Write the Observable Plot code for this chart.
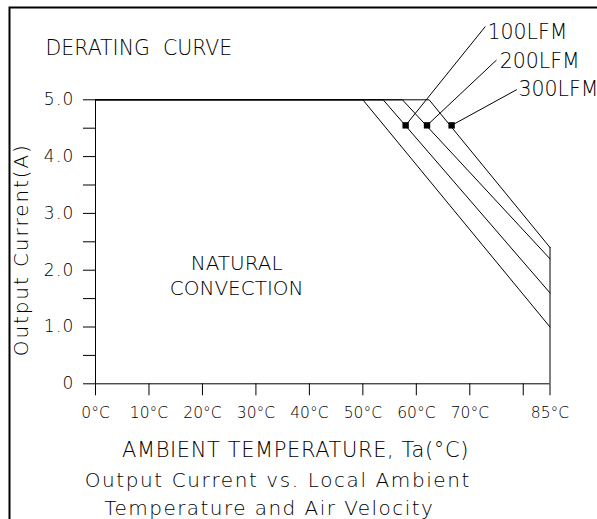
<!DOCTYPE html>
<html><head><meta charset="utf-8">
<script src="https://cdn.jsdelivr.net/npm/d3@7"></script>
<script src="https://cdn.jsdelivr.net/npm/@observablehq/plot@0.6"></script>
<style>
body{margin:0;background:#fff}
#chart{width:597px;height:519px;overflow:hidden;position:relative}
</style>
</head><body><div id="chart"></div>
<script>
// ---- data ----
const curveNames = ["NATURAL CONVECTION", "100LFM", "200LFM", "300LFM"];
const kneeTemps = [50, 53.8, 57.4, 62.4];      // °C where derating starts
const maxCurrent = 5.0;                          // A
const endTemp = 85;                              // °C
const endCurrents = [1.0, 1.6, 2.2, 2.4];        // A at 85°C

const labelNames = ["100LFM", "200LFM", "300LFM"];
const markerTemps = [58.0, 62.0, 66.6];
const markerCurrents = [4.55, 4.55, 4.55];
const leaderTemps = [72.9, 75.0, 78.8];
const leaderCurrents = [6.29, 5.70, 5.18];
const labelTemps = [73.3, 75.6, 79.1];
const labelCurrents = [6.19, 5.68, 5.19];

const xTicks = [0, 10, 20, 30, 40, 50, 60, 70, 80, 85];
const xTickLabels = ["0°C", "10°C", "20°C", "30°C", "40°C", "50°C", "60°C", "70°C", "", "85°C"];
const yTicks = [0, 0.5, 1, 1.5, 2, 2.5, 3, 3.5, 4, 4.5, 5];
const yTickLabels = ["0", "", "1.0", "", "2.0", "", "3.0", "", "4.0", "", "5.0"];

const titleText = "DERATING  CURVE";
const regionText = ["NATURAL", "CONVECTION"];
const xLabel = "AMBIENT TEMPERATURE, Ta(°C)";
const yLabel = "Output Current(A)";
const captionLines = ["Output Current vs. Local Ambient", "Temperature and Air Velocity"];

// ---- build tables ----
const curvePts = [];
curveNames.forEach((n, i) => {
  curvePts.push({s: n, t: 0, a: maxCurrent});
  curvePts.push({s: n, t: kneeTemps[i], a: maxCurrent});
  curvePts.push({s: n, t: endTemp, a: endCurrents[i]});
});
const markers = labelNames.map((n, i) => ({
  n, t: markerTemps[i], a: markerCurrents[i],
  lt: leaderTemps[i], la: leaderCurrents[i],
  tt: labelTemps[i], ta: labelCurrents[i]
}));

const FONT = "DejaVu Sans";
const W = 200;

const plot = Plot.plot({
  width: 597, height: 519,
  marginLeft: 95, marginRight: 47.5, marginTop: 99.3, marginBottom: 135.7,
  x: {domain: [0, 85]},
  y: {domain: [0, 5]},
  style: {fontFamily: FONT, background: "#fff", color: "#000"},
  marks: [
    Plot.frame({insetLeft: -86, insetTop: -92.3, insetRight: -80, insetBottom: -200, stroke: "#000", strokeWidth: 2}),
    Plot.axisX({ticks: xTicks, tickSize: 12, tickPadding: 11, tickFormat: d => xTickLabels[xTicks.indexOf(d)], fontSize: 15.5, fontWeight: W, fill: "#000", label: null}),
    Plot.axisY({ticks: yTicks, tickSize: 12, tickPadding: 9, tickFormat: d => yTickLabels[yTicks.indexOf(d)], fontSize: 17, fontWeight: W, fill: "#000", label: null}),
    Plot.ruleX([0], {y1: 0, y2: maxCurrent, stroke: "#000"}),
    Plot.ruleY([0], {stroke: "#000"}),
    Plot.ruleX([endTemp], {y1: 0, y2: d3.max(endCurrents), stroke: "#000"}),
    Plot.line(curvePts, {x: "t", y: "a", z: "s", stroke: "#000", strokeWidth: 1}),
    Plot.link(markers, {x1: "t", y1: "a", x2: "lt", y2: "la", stroke: "#000", strokeWidth: 1}),
    Plot.dot(markers, {x: "t", y: "a", symbol: "square", r: 3.6, fill: "#000", stroke: null}),
    Plot.text(markers, {x: "tt", y: "ta", text: "n", textAnchor: "start", fontSize: 20.5, fontWeight: W, fill: "#000"}),
    Plot.text([titleText], {x: -9.35, y: 5.9, textAnchor: "start", fontSize: 20.5, fontWeight: W, fill: "#000"}),
    Plot.text(regionText, {x: 26.4, y: [2.12, 1.68], fontSize: 20, fontWeight: W, fill: "#000"}),
    Plot.text([xLabel], {x: 37.4, y: -1.17, fontSize: 21, fontWeight: W, fill: "#000"}),
    Plot.text(captionLines, {x: [34.1, 32.5], y: [-1.71, -2.19], fontSize: 20, fontWeight: W, fill: "#000"}),
    Plot.text([yLabel], {x: -13.8, y: 2.36, rotate: -90, fontSize: 20, fontWeight: W, fill: "#000"})
  ]
});

// wide, CAD-like lettering
const spacing = new Map([
  [captionLines[0], 1.6], [captionLines[1], 1.45],
  [xLabel, 0.6], [yLabel, 1.9]
]);
d3.select(plot).selectAll("text").each(function() {
  const t = this.textContent;
  if (spacing.has(t)) this.setAttribute("letter-spacing", spacing.get(t));
  else if (yTickLabels.includes(t) && t !== "") this.setAttribute("letter-spacing", 1.2);
});
document.getElementById("chart").appendChild(plot);
</script></body></html>
